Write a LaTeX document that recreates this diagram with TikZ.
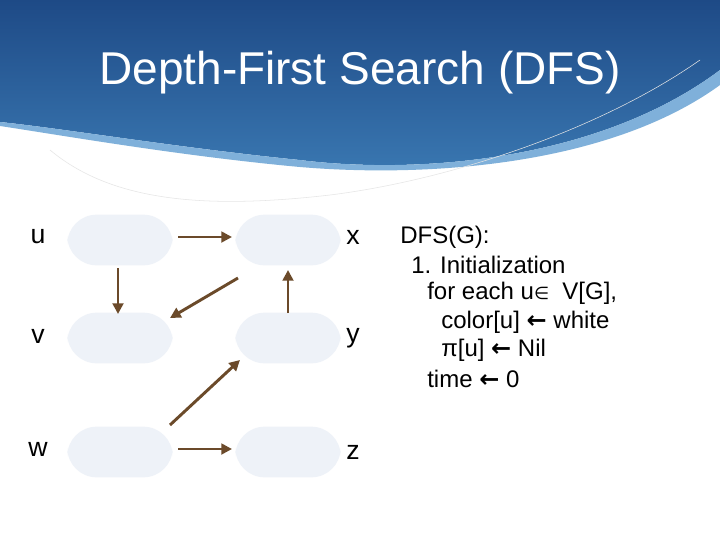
\documentclass[tikz,border=0pt]{standalone}
\usepackage{fontspec}
\setmainfont{Liberation Sans}
\newfontfamily\djv{DejaVu Sans}
\usetikzlibrary{arrows.meta}
\definecolor{hdark}{HTML}{1E4A86}
\definecolor{hmid}{HTML}{3A78B2}
\definecolor{hlight}{HTML}{7FB0DA}
\definecolor{nfill}{HTML}{EEF2F8}
\definecolor{brn}{HTML}{6B4A2A}
\tikzset{vert/.style={draw=none,fill=nfill,rounded corners=22pt,minimum width=79pt,minimum height=38pt},
 lab/.style={font=\fontsize{20}{24}\selectfont,anchor=center},
 edge/.style={draw=brn,line width=2.2pt,-{Triangle[length=8pt,width=8pt]}},
 code/.style={font=\fontsize{18}{21}\selectfont,anchor=west,inner sep=0pt}}
\begin{document}
\begin{tikzpicture}[x=0.75pt,y=-0.75pt]
\useasboundingbox (0,0) rectangle (720,540);
\fill[white] (0,0) rectangle (720,540);
% header
\shade[top color=hdark,bottom color=hmid] (0,0) -- (720,0) -- (720,70) .. controls (600,160) and (420,175) .. (300,160) .. controls (180,148) and (60,128) .. (0,122) -- cycle;
\fill[hlight] (720,70) .. controls (600,160) and (420,175) .. (300,160) .. controls (180,148) and (60,128) .. (0,122) -- (0,126) .. controls (60,135) and (180,156) .. (300,167) .. controls (430,178) and (610,165) .. (720,85) -- cycle;
\draw[gray!20,line width=0.4pt] (50,150) .. controls (110,200) and (200,210) .. (330,195) .. controls (450,180) and (600,130) .. (700,60);
\node[white,font=\fontsize{34.5}{40}\selectfont] (title) at (360,73) {Depth-First Search (DFS)};
% vertices
\node[vert] (u) at (120,240) {};
\node[vert] (x) at (288,240) {};
\node[vert] (v) at (120,338) {};
\node[vert] (y) at (288,338) {};
\node[vert] (w) at (120,452) {};
\node[vert] (z) at (288,452) {};
\node[lab] (lu) at (38,237) {u};
\node[lab] (lx) at (353,237) {x};
\node[lab] (lv) at (38,336) {v};
\node[lab] (ly) at (353,338) {y};
\node[lab] (lw) at (38,449) {w};
\node[lab] (lz) at (353,452) {z};
% edges
\draw[edge] ([shift={(58,-3)}]u.center) -- ([shift={(-56,-3)}]x.center);
\draw[edge] ([shift={(-2,28)}]u.center) -- ([shift={(-2,-24)}]v.center);
\draw[edge] ([shift={(-50,38)}]x.center) -- ([shift={(50,-20)}]v.center);
\draw[edge] ([shift={(0,-25)}]y.center) -- ([shift={(0,30)}]x.center);
\draw[edge] ([shift={(50,-27)}]w.center) -- ([shift={(-48,22)}]y.center);
\draw[edge] ([shift={(58,-3)}]w.center) -- ([shift={(-56,-3)}]z.center);
% code
\node[code] (c1) at (400,237) {DFS(G):};
\node[code] (c2) at (411,265) {1. Initialization};
\node[code] (c3) at (427,293) {for each u{\djv\fontsize{13}{14}\selectfont∈}\ \ V[G],};
\node[code] (c4) at (441,322) {color[u] {\djv\bfseries ←} white};
\node[code] (c5) at (441,350) {π[u] {\djv\bfseries ←} Nil};
\node[code] (c6) at (427,379) {time {\djv\bfseries ←} 0};
\end{tikzpicture}
\end{document}
